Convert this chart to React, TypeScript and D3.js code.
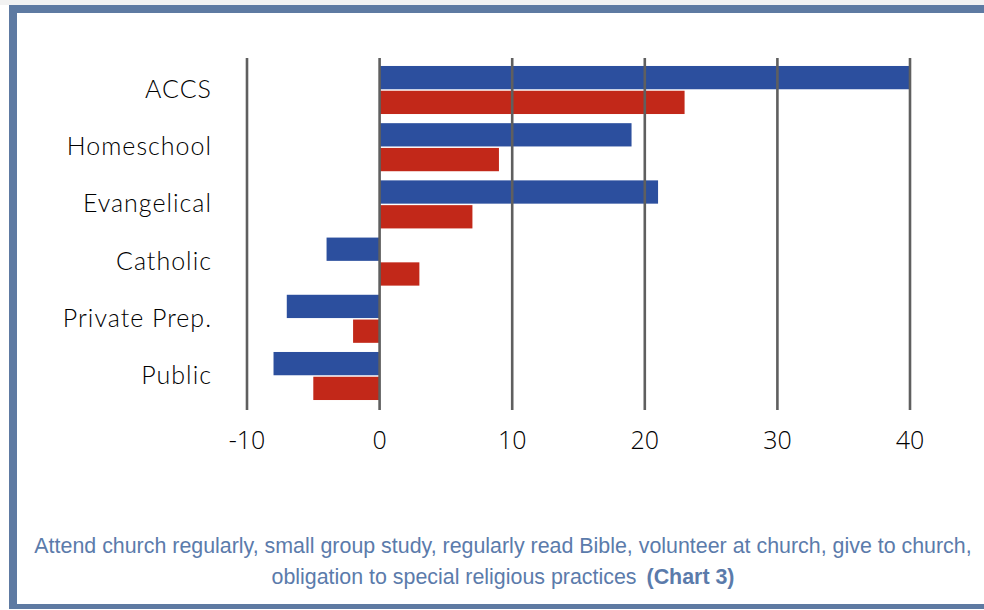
import React from "react";
import * as d3 from "d3";

const categories = ["ACCS", "Homeschool", "Evangelical", "Catholic", "Private Prep.", "Public"];
const seriesNames = ["s1", "s2"];
const series1 = [40, 19, 21, -4, -7, -8];
const series2 = [23, 9, 7, 3, -2, -5];
const xTicks = [-10, 0, 10, 20, 30, 40];
const captionLine1 = "Attend church regularly, small group study, regularly read Bible, volunteer at church, give to church,";
const captionLine2 = "obligation to special religious practices";
const captionBold = "(Chart 3)";

const colors = ["#2c4f9e", "#c22819"];
const frame = "#5e7aa2";

export default function App() {
  const W = 984, H = 610;
  const x = d3.scaleLinear().domain([-10, 40]).range([247, 910]);
  const y = d3.scaleBand<string>().domain(categories).range([61.4, 404.6]).paddingInner(0.16).paddingOuter(0.08);
  const sub = d3.scaleBand<string>().domain(seriesNames).range([0, y.bandwidth()]).paddingInner(0.06);
  const data = [series1, series2];
  return (
    <svg width={W} height={H} style={{ position: "absolute", left: 0, top: 0 }}>
      <rect x={0} y={0} width={W} height={H} fill="#fff" />
      <rect x={0} y={0} width={W} height={5} fill="#f2f2f2" />
      <rect x={9} y={5} width={W - 9} height={8} fill={frame} />
      <rect x={9} y={5} width={8} height={604} fill={frame} />
      <rect x={9} y={604} width={W - 9} height={5} fill={frame} />
      {categories.map((c, i) =>
        data.map((s, j) => {
          const v = s[i];
          const x0 = x(Math.min(0, v));
          const x1 = x(Math.max(0, v));
          return (
            <rect key={c + j} x={x0} y={(y(c) as number) + (sub(seriesNames[j]) as number)} width={x1 - x0} height={sub.bandwidth()} fill={colors[j]} />
          );
        })
      )}
      {xTicks.map((t) => (
        <line key={t} x1={x(t)} x2={x(t)} y1={58} y2={410} stroke="#5f5f5f" strokeWidth={2.6} />
      ))}
      {xTicks.map((t) => (
        <text key={"l" + t} x={x(t)} y={449} textAnchor="middle" fontFamily="'Open Sans'" fontWeight={300} fontSize={25} fill="#000">
          {t}
        </text>
      ))}
      {categories.map((c) => (
        <text key={"c" + c} x={212} y={(y(c) as number) + y.bandwidth() / 2 + 8} textAnchor="end" fontFamily="Lato" fontWeight={300} fontSize={25} letterSpacing={1} fill="#000">
          {c}
        </text>
      ))}
      <text x={503} y={552.5} textAnchor="middle" fontFamily="'Liberation Sans', Arial" fontSize={21.4} fill="#5b7bab">
        {captionLine1}
      </text>
      <text x={503} y={584} textAnchor="middle" fontFamily="'Liberation Sans', Arial" fontSize={21.4} fill="#5b7bab">
        {captionLine2}
        <tspan fontWeight="bold" dx={10}>{captionBold}</tspan>
      </text>
    </svg>
  );
}
